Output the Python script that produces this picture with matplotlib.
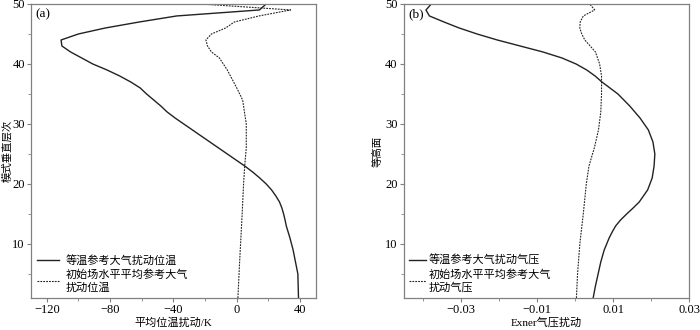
import matplotlib as mpl
mpl.use('Agg')
import matplotlib.pyplot as plt
import matplotlib.ticker as ticker

plt.rcParams['font.family'] = ['Liberation Serif', 'Noto Sans CJK SC']
plt.rcParams['axes.unicode_minus'] = True

# (a) mean potential temperature perturbation, K
lev_a_iso = [1, 5, 9, 11, 13, 14, 15, 16, 17, 18, 19, 20, 21, 22, 23, 24, 25, 26, 27, 28, 29,
             30, 31, 32, 33, 34, 35, 36, 37, 38, 39, 40, 41, 42, 43, 44, 45, 46, 47, 48, 49, 50]
theta_iso = [39, 38.6, 35.6, 33.6, 31.3, 30.5, 29.6, 28.5, 27, 24.7, 22, 18.6, 14.5, 10, 5,
             -0.5, -6, -11.5, -17, -22.5, -28, -33.5, -39, -44, -48, -52.5, -57, -61, -67,
             -74, -82, -91, -98, -105, -110.5, -111, -100, -83, -61.5, -38, 14.3, 18.6]
lev_a_ini = [1, 7, 15, 20, 23, 26, 30, 34, 36, 39, 41, 42, 43, 44, 45, 46, 47, 48, 49, 50]
theta_ini = [0.7, 1.8, 3.4, 4.3, 5, 6, 6, 3.7, 0, -6, -11, -16, -18.5, -19.5, -16, -7,
             -1.5, 14, 34, -23]

# (b) Exner pressure perturbation
lev_b_iso = [1, 3, 5, 7, 9, 11, 12, 13, 14, 15, 16, 17, 19, 21, 23, 25, 27, 29, 31, 33, 35,
             37, 38, 39, 40, 41, 42, 43, 44, 45, 46, 47, 48, 49, 50]
exner_iso = [0.0047, 0.0053, 0.006, 0.0067, 0.0076, 0.0089, 0.0097, 0.0106, 0.0119, 0.0135,
             0.0152, 0.0168, 0.019, 0.0202, 0.0207, 0.0209, 0.0204, 0.0192, 0.017, 0.0143,
             0.0112, 0.007, 0.0052, 0.003, 0.0002, -0.0035, -0.0085, -0.0145, -0.0205,
             -0.0258, -0.0305, -0.0345, -0.0383, -0.0392, -0.0378]
lev_b_ini = [1, 5, 10, 15, 20, 23, 26, 29, 32, 35, 38, 40, 42, 44, 45, 46, 47, 48, 49, 50]
exner_ini = [0.0003, 0.0006, 0.0012, 0.0021, 0.0029, 0.0036, 0.005, 0.0061, 0.0067, 0.0069,
             0.0069, 0.0064, 0.0053, 0.0025, 0.0017, 0.0012, 0.0013, 0.0021, 0.0051, 0.0038]

spine_col = '#808080'
dash = (0, (1.6, 1.0))

fig = plt.figure(figsize=(7.0, 3.3), dpi=100)
ax1 = fig.add_axes([0.0443, 0.097, 0.407, 0.891])
ax2 = fig.add_axes([0.577, 0.097, 0.408, 0.891])


def style(ax):
    for s in ax.spines.values():
        s.set_color(spine_col)
        s.set_linewidth(0.9)
    ax.tick_params(which='both', direction='out', color=spine_col, labelsize=9, pad=1.5)
    ax.tick_params(which='major', length=3)
    ax.tick_params(which='minor', length=2.5)
    ax.set_ylim(1, 50)
    ax.yaxis.set_major_locator(ticker.MultipleLocator(10))
    ax.yaxis.set_minor_locator(ticker.MultipleLocator(5))


ax1.plot(theta_iso, lev_a_iso, color='#222222', lw=1.0, label='等温参考大气扰动位温')
ax1.plot(theta_ini, lev_a_ini, color='#222222', lw=0.8, ls=dash,
         label='初始场水平平均参考大气\n扰动位温')
style(ax1)
ax1.set_xlim(-130, 50)
ax1.xaxis.set_major_locator(ticker.FixedLocator([-120, -80, -40, 0, 40]))
ax1.xaxis.set_minor_locator(ticker.MultipleLocator(20))
ax1.set_xlabel('平均位温扰动/K', fontsize=8, labelpad=0.5)
ax1.set_ylabel('模式垂直层次', fontsize=7.5, labelpad=0)
ax1.text(0.015, 0.985, '(a)', transform=ax1.transAxes, ha='left', va='top', fontsize=9.5)
ax1.legend(loc='lower left', frameon=False, fontsize=8, handlelength=2.0,
           handletextpad=0.6, labelspacing=0.3, borderaxespad=0.2, borderpad=0.3)

ax2.plot(exner_iso, lev_b_iso, color='#222222', lw=1.0, label='等温参考大气扰动气压')
ax2.plot(exner_ini, lev_b_ini, color='#222222', lw=0.8, ls=dash,
         label='初始场水平平均参考大气\n扰动气压')
style(ax2)
ax2.set_xlim(-0.045, 0.03)
ax2.xaxis.set_major_locator(ticker.FixedLocator([-0.03, -0.01, 0.01, 0.03]))
ax2.xaxis.set_minor_locator(ticker.MultipleLocator(0.01))
ax2.xaxis.set_major_formatter(ticker.FuncFormatter(lambda v, p: ('%.2f' % v).replace('-', '\u2212')))
ax2.set_xlabel('Exner气压扰动', fontsize=8, labelpad=0.5)
ax2.set_ylabel('等高面', fontsize=7.5, labelpad=2)
ax2.text(0.015, 0.985, '(b)', transform=ax2.transAxes, ha='left', va='top', fontsize=9.5)
ax2.legend(loc='lower left', frameon=False, fontsize=8, handlelength=1.5,
           handletextpad=0.2, labelspacing=0.3, borderaxespad=0.2, borderpad=0.3)

fig.savefig('out.png', dpi=100)
